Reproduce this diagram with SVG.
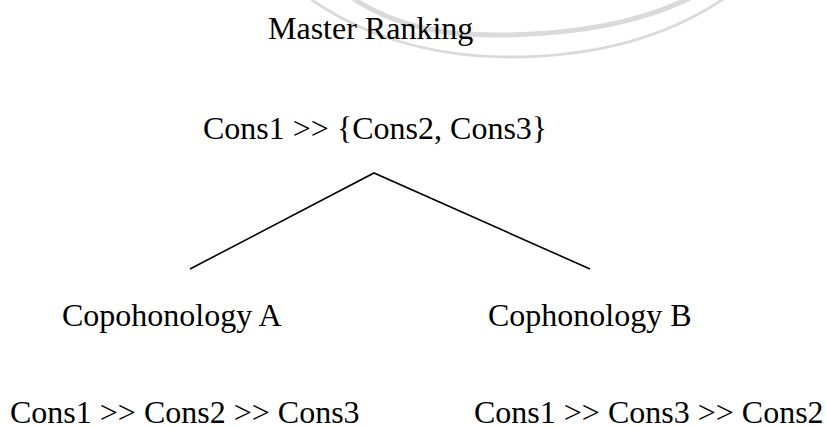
<svg xmlns="http://www.w3.org/2000/svg" width="826" height="426" viewBox="0 0 826 426">
  <style>
    .t { font-family: "Liberation Serif", "Times New Roman", serif; font-size: 32px; fill: #000; }
    .arc { fill: none; stroke: #d9dad9; stroke-linecap: round; }
    .edge { fill: none; stroke: #000; stroke-width: 1.6; }
  </style>
  <rect width="826" height="426" fill="#fff"/>
  <!-- faint background arcs -->
  <g id="background">
    <path class="arc" stroke-width="5" d="M355,0 C400,28 445,35 495,35 C580,35 645,20 690,-2"/>
    <path class="arc" stroke-width="2.8" d="M312,0 C370,40 440,57 510,57 C600,57 670,35 725,-2"/>
  </g>
  <g id="title">
    <text class="t" x="268" y="39">Master Ranking</text>
  </g>
  <g id="master">
    <text class="t" x="203" y="139">Cons1 &gt;&gt; {Cons2, Cons3}</text>
  </g>
  <g id="connectors">
    <path class="edge" d="M190,269 L374,173 L590,269"/>
  </g>
  <g id="cophonologyA">
    <text class="t" x="62" y="326">Copohonology A</text>
    <text class="t" x="10" y="423">Cons1 &gt;&gt; Cons2 &gt;&gt; Cons3</text>
  </g>
  <g id="cophonologyB">
    <text class="t" x="488" y="326">Cophonology B</text>
    <text class="t" x="474" y="423">Cons1 &gt;&gt; Cons3 &gt;&gt; Cons2</text>
  </g>
</svg>
